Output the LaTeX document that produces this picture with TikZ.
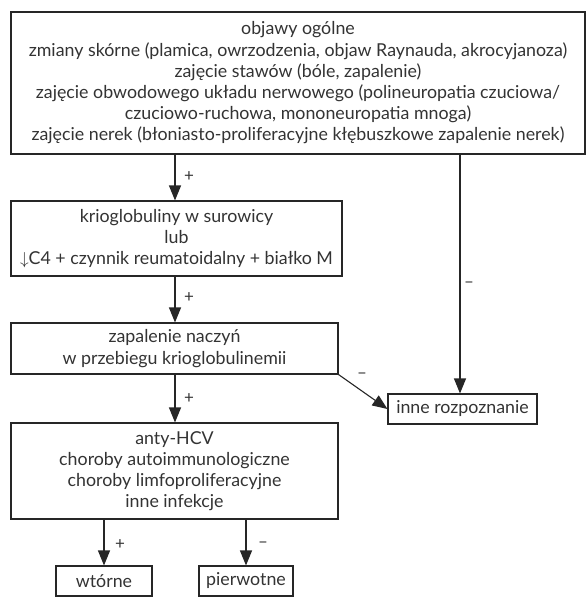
\documentclass[tikz,border=0pt]{standalone}
\usepackage{fontspec}
\setmainfont{Lato}
\usetikzlibrary{arrows.meta,positioning,calc}
\tikzset{
  blok/.style={draw=black!85,line width=1.1pt,fill=white,align=center,inner sep=0pt,
               text=black!80,font=\fontsize{17.8}{21.2}\selectfont},
  wynik/.style={blok,minimum height=30pt},
  krok/.style={-{Triangle[length=15pt,width=12pt]},draw=black!85,line width=1.1pt},
  znak/.style={font=\fontsize{17}{18}\selectfont,text=black!80,inner sep=0pt},
}
\begin{document}
\begin{tikzpicture}[x=1pt,y=-1pt]
  \useasboundingbox (0,0) rectangle (586,597);
  \coordinate (os) at (175,0);
  \coordinate (prawa) at (460,0);
  % kryteria kliniczne
  \node[blok,minimum width=574pt,minimum height=142pt] (objawy) at (298,83)
    {objawy ogólne\\
     zmiany skórne (plamica, owrzodzenia, objaw Raynauda, akrocyjanoza)\\
     zajęcie stawów (bóle, zapalenie)\\
     zajęcie obwodowego układu nerwowego (polineuropatia czuciowa/\\
     czuciowo-ruchowa, mononeuropatia mnoga)\\
     zajęcie nerek (błoniasto-proliferacyjne kłębuszkowe zapalenie nerek)};
  \node[blok,minimum width=331pt,minimum height=75pt] (krio) at (176.5,238.5)
    {krioglobuliny w surowicy\\ lub\\ $\downarrow$C4 + czynnik reumatoidalny + białko M};
  \node[blok,minimum width=327pt,minimum height=51pt] (zapal) at (174.5,348.5)
    {zapalenie naczyń\\ w przebiegu krioglobulinemii};
  \node[blok,minimum width=327pt,minimum height=96pt] (przyczyny) at (174.5,471)
    {anty-HCV\\ choroby autoimmunologiczne\\ choroby limfoproliferacyjne\\ inne infekcje};
  \node[wynik,minimum width=149pt] (inne) at (462.5,409) {inne rozpoznanie};
  \node[wynik,minimum width=96pt] (wtorne) at (104,581) {wtórne};
  \node[wynik,minimum width=94pt] (pierwotne) at (246,581) {pierwotne};
  % polaczenia
  \draw[krok] (objawy.south -| os) -- (krio.north -| os);
  \draw[krok] (krio.south -| os) -- (zapal.north -| os);
  \draw[krok] (zapal.south -| os) -- (przyczyny.north -| os);
  \draw[krok] (objawy.south -| prawa) -- (inne.north -| prawa);
  \draw[krok] (zapal.south east) -- (inne.west);
  \draw[krok] (przyczyny.south -| wtorne) -- (wtorne.north);
  \draw[krok] (przyczyny.south -| pierwotne) -- (pierwotne.north);
  \node[znak] (p1) at (189,177) {+};
  \node[znak] (p2) at (189,298) {+};
  \node[znak] (p3) at (189,399) {+};
  \node[znak] (m1) at (469,285) {–};
  \node[znak] (m2) at (362,376) {–};
  \node[znak] (p4) at (120,545) {+};
  \node[znak] (m3) at (263,545) {–};
\end{tikzpicture}
\end{document}
